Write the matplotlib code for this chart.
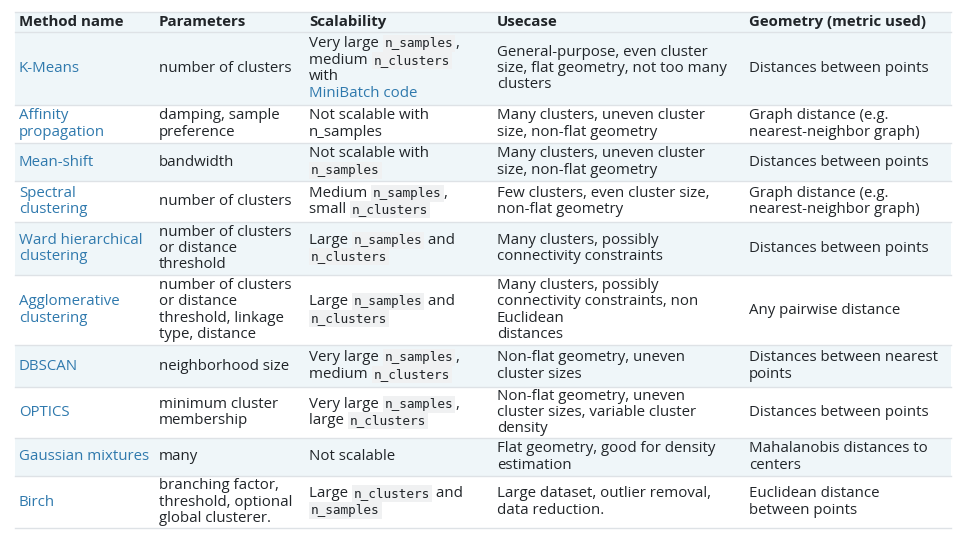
import matplotlib
matplotlib.use("Agg")
import matplotlib.pyplot as plt
import re

# table content: `code`, {link}
columns = ["Method name", "Parameters", "Scalability", "Usecase", "Geometry (metric used)"]
method_names = [
    ["{K-Means}"],
    ["{Affinity}", "{propagation}"],
    ["{Mean-shift}"],
    ["{Spectral}", "{clustering}"],
    ["{Ward hierarchical}", "{clustering}"],
    ["{Agglomerative}", "{clustering}"],
    ["{DBSCAN}"],
    ["{OPTICS}"],
    ["{Gaussian mixtures}"],
    ["{Birch}"],
]
parameters = [
    ["number of clusters"],
    ["damping, sample", "preference"],
    ["bandwidth"],
    ["number of clusters"],
    ["number of clusters", "or distance", "threshold"],
    ["number of clusters", "or distance", "threshold, linkage", "type, distance"],
    ["neighborhood size"],
    ["minimum cluster", "membership"],
    ["many"],
    ["branching factor,", "threshold, optional", "global clusterer."],
]
scalability = [
    ["Very large `n_samples`,", "medium `n_clusters`", "with", "{MiniBatch code}"],
    ["Not scalable with", "n_samples"],
    ["Not scalable with", "`n_samples`"],
    ["Medium `n_samples`,", "small `n_clusters`"],
    ["Large `n_samples` and", "`n_clusters`"],
    ["Large `n_samples` and", "`n_clusters`"],
    ["Very large `n_samples`,", "medium `n_clusters`"],
    ["Very large `n_samples`,", "large `n_clusters`"],
    ["Not scalable"],
    ["Large `n_clusters` and", "`n_samples`"],
]
usecase = [
    ["General-purpose, even cluster", "size, flat geometry, not too many", "clusters"],
    ["Many clusters, uneven cluster", "size, non-flat geometry"],
    ["Many clusters, uneven cluster", "size, non-flat geometry"],
    ["Few clusters, even cluster size,", "non-flat geometry"],
    ["Many clusters, possibly", "connectivity constraints"],
    ["Many clusters, possibly", "connectivity constraints, non", "Euclidean", "distances"],
    ["Non-flat geometry, uneven", "cluster sizes"],
    ["Non-flat geometry, uneven", "cluster sizes, variable cluster", "density"],
    ["Flat geometry, good for density", "estimation"],
    ["Large dataset, outlier removal,", "data reduction."],
]
geometry = [
    ["Distances between points"],
    ["Graph distance (e.g.", "nearest-neighbor graph)"],
    ["Distances between points"],
    ["Graph distance (e.g.", "nearest-neighbor graph)"],
    ["Distances between points"],
    ["Any pairwise distance"],
    ["Distances between nearest", "points"],
    ["Distances between points"],
    ["Mahalanobis distances to", "centers"],
    ["Euclidean distance", "between points"],
]

col_x = [15, 155, 305, 493, 745, 951]
row_y = [12, 32, 105, 143, 181, 222, 275, 345, 387, 438, 476, 528]

TEXT = "#212529"
LINK = "#2f79ad"
SHADE = "#eff6f9"
LINE_H = 16.5
FONT = ["Open Sans", "DejaVu Sans"]

fig = plt.figure(figsize=(9.68, 5.38), dpi=100)
ax = fig.add_axes([0, 0, 1, 1])
ax.set_xlim(0, 968)
ax.set_ylim(538, 0)
ax.axis("off")
renderer = fig.canvas.get_renderer()


def draw_line(x, y, line, bold=False):
    for piece in re.split(r"(`[^`]*`|\{[^}]*\})", line):
        if not piece:
            continue
        if piece.startswith("`"):
            t = ax.text(x + 2, y, piece[1:-1], family="DejaVu Sans Mono", fontsize=9.2,
                        color=TEXT, va="center",
                        bbox=dict(boxstyle="square,pad=0.15", fc="#f0f1f2", ec="none"))
            w = t.get_window_extent(renderer).width + 4
        else:
            color = TEXT
            if piece.startswith("{"):
                piece = piece[1:-1]
                color = LINK
            t = ax.text(x, y, piece, family=FONT, fontsize=10.8, color=color, va="center",
                        fontweight="bold" if bold else "normal")
            w = t.get_window_extent(renderer).width
        x += w


# header
ax.add_patch(plt.Rectangle((col_x[0], row_y[0]), col_x[-1] - col_x[0], row_y[1] - row_y[0],
                           fc=SHADE, ec="none"))
for c, name in enumerate(columns):
    draw_line(col_x[c] + 4, (row_y[0] + row_y[1]) / 2, name, bold=True)
ax.plot([col_x[0], col_x[-1]], [row_y[0], row_y[0]], color="#dee2e6", lw=1)

cells = list(zip(method_names, parameters, scalability, usecase, geometry))
for r, row in enumerate(cells):
    top, bot = row_y[r + 1], row_y[r + 2]
    if r % 2 == 0:
        ax.add_patch(plt.Rectangle((col_x[0], top), col_x[-1] - col_x[0], bot - top,
                                   fc=SHADE, ec="none"))
    ax.plot([col_x[0], col_x[-1]], [top, top], color="#dee2e6", lw=1)
    mid = (top + bot) / 2
    for c, lines in enumerate(row):
        y0 = mid - (len(lines) - 1) * LINE_H / 2
        for i, line in enumerate(lines):
            draw_line(col_x[c] + 4, y0 + i * LINE_H, line)
ax.plot([col_x[0], col_x[-1]], [row_y[-1], row_y[-1]], color="#dee2e6", lw=1)

fig.savefig("out.png", dpi=100)
